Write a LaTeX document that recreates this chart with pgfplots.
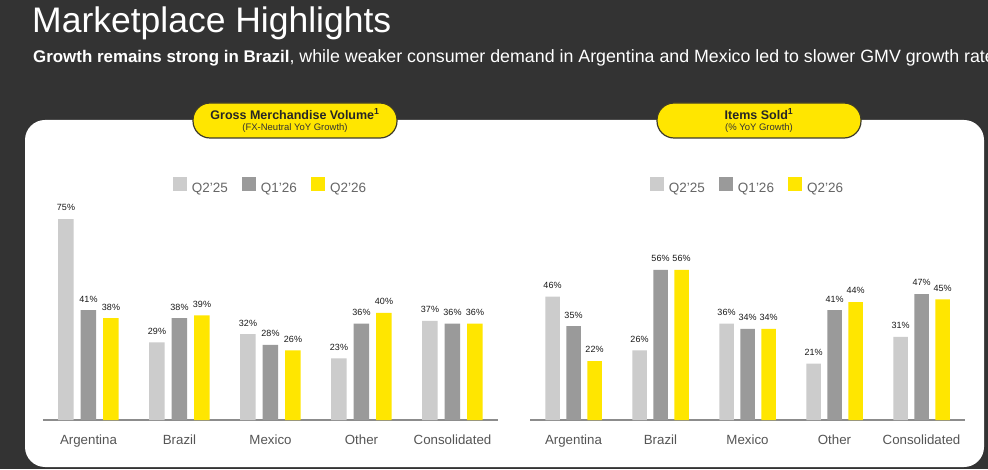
\documentclass[border=0pt]{standalone}
\usepackage{fontspec}
\setmainfont{Liberation Sans}
\usepackage{pgfplots}
\pgfplotsset{compat=1.18}
\definecolor{bgdark}{HTML}{333333}
\definecolor{barlight}{HTML}{CCCCCC}
\definecolor{barmid}{HTML}{9A9A9A}
\definecolor{baryel}{HTML}{FFE600}
\definecolor{axisgray}{HTML}{8C8C8C}
\definecolor{tickgray}{HTML}{555555}
\definecolor{leggray}{HTML}{666666}
\definecolor{pillline}{HTML}{3D3A2A}

\pgfplotsset{
  mlbars/.style={
    /pgf/number format/assume math mode=true,
    scale only axis,
    ymin=0, ymax=80,
    height=214.4pt,
    xmin=-0.5, xmax=4.5,
    axis x line=bottom,
    axis y line=none,
    x axis line style={-, draw=axisgray, line width=1.4pt},
    xtick={0,1,2,3,4},
    xticklabels={Argentina,Brazil,Mexico,Other,Consolidated},
    tick style={draw=none},
    ytick=\empty,
    xticklabel style={font=\fontsize{13.3}{15}\selectfont, text=tickgray, yshift=-7pt},
    nodes near coords={\pgfmathprintnumber[fixed,precision=0]{\pgfplotspointmeta}\%},
    every node near coord/.append style={font=\fontsize{9}{10}\selectfont, text=black!90, yshift=4.5pt},
    legend style={at={(0.5,1.087)}, anchor=center, draw=none, fill=none,
      legend columns=3, font=\fontsize{13.5}{15}\selectfont, text=leggray,
      /tikz/every odd column/.append style={column sep=3pt},
      /tikz/every even column/.append style={column sep=12pt}},
    clip=false,
  },
  sqlegend/.style={
    legend image code/.code={\fill[##1] (0pt,-2.5pt) rectangle (14pt,11.5pt);},
  }
}

\begin{document}
\begin{tikzpicture}
\useasboundingbox (0pt,0pt) rectangle (988pt,469pt);
\fill[bgdark] (0pt,0pt) rectangle (988pt,469pt);
\begin{scope}
\clip (0pt,0pt) rectangle (988pt,469pt);
\node[anchor=base west, inner sep=0pt, text=white, font=\fontsize{35.5}{40}\selectfont] at (32pt,436pt) {Marketplace Highlights};
\node[anchor=base west, inner sep=0pt, text=white, font=\fontsize{16.9}{20}\selectfont] at (33pt,406.5pt) {\textbf{Growth remains strong in Brazil}\fontsize{17.8}{20}\selectfont, while weaker consumer demand in Argentina and Mexico led to slower GMV growth rate};
\end{scope}
\fill[white, rounded corners=20pt] (25pt,2pt) rectangle (984pt,349pt);

% pills
\filldraw[fill=baryel, draw=pillline, line width=1.2pt, rounded corners=17pt] (193pt,331pt) rectangle (397pt,366pt);
\node[inner sep=0pt, font=\fontsize{12.5}{14}\selectfont\bfseries, text=black!85] at (295pt,355pt) {Gross Merchandise Volume\textsuperscript{1}};
\node[inner sep=0pt, font=\fontsize{9.5}{11}\selectfont, text=black!80] at (295pt,341pt) {(FX-Neutral YoY Growth)};
\filldraw[fill=baryel, draw=pillline, line width=1.2pt, rounded corners=17pt] (657pt,331pt) rectangle (861pt,366pt);
\node[inner sep=0pt, font=\fontsize{12.5}{14}\selectfont\bfseries, text=black!85] at (759pt,355pt) {Items Sold\textsuperscript{1}};
\node[inner sep=0pt, font=\fontsize{9.5}{11}\selectfont, text=black!80] at (759pt,341pt) {(\% YoY Growth)};

% GMV
\begin{axis}[mlbars, at={(43pt,49pt)}, anchor=south west, width=455pt, ybar=7pt, bar width=15.5pt, sqlegend]
\addplot[fill=barlight, draw=none] coordinates {(0,75) (1,29) (2,32) (3,23) (4,37)};
\addplot[fill=barmid, draw=none] coordinates {(0,41) (1,38) (2,28) (3,36) (4,36)};
\addplot[fill=baryel, draw=none] coordinates {(0,38) (1,39) (2,26) (3,40) (4,36)};
\legend{Q2’25,Q1’26,Q2’26}
\end{axis}

% Items sold
\begin{axis}[mlbars, at={(530pt,49pt)}, anchor=south west, width=435pt, ybar=6.5pt, bar width=14.5pt, sqlegend]
\addplot[fill=barlight, draw=none] coordinates {(0,46) (1,26) (2,36) (3,21) (4,31)};
\addplot[fill=barmid, draw=none] coordinates {(0,35) (1,56) (2,34) (3,41) (4,47)};
\addplot[fill=baryel, draw=none] coordinates {(0,22) (1,56) (2,34) (3,44) (4,45)};
\legend{Q2’25,Q1’26,Q2’26}
\end{axis}
\end{tikzpicture}
\end{document}
